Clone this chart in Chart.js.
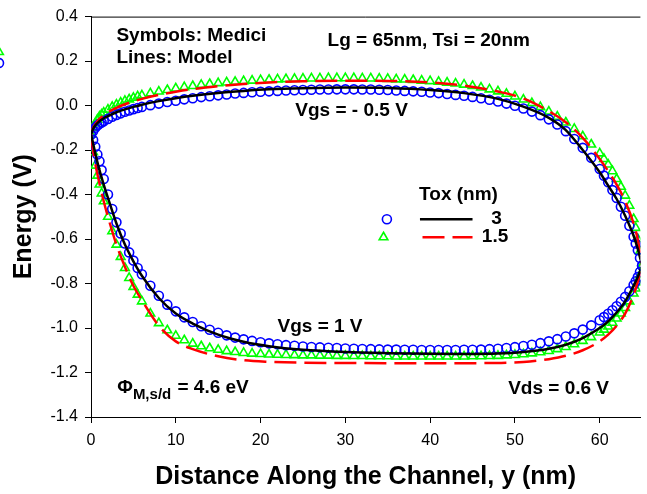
<!DOCTYPE html>
<html>
<head>
<meta charset="utf-8">
<script src="https://cdn.jsdelivr.net/npm/chart.js@4.4.0/dist/chart.umd.min.js"></script>
<style>
  html, body { margin: 0; padding: 0; background: #fff; }
</style>
</head>
<body>
<canvas id="chart" width="647" height="494"></canvas>
<script>
// ======= Data =======
const xTicks = [0, 10, 20, 30, 40, 50, 60];
const yTicks = [-1.4, -1.2, -1.0, -0.8, -0.6, -0.4, -0.2, 0.0, 0.2, 0.4];

// model lines (x in nm)
const xLine = [0, 0.25, 0.5, 1, 1.5, 2, 3, 4, 5, 6, 8, 10, 12, 15, 18, 21, 25, 30, 35, 40,
  44, 48, 51, 54, 56, 58, 60, 61, 62, 63, 64, 64.5, 65];
// Tox = 3 nm, Vgs = -0.5 V
const blackUp = [-0.13, -0.105, -0.09, -0.07, -0.057, -0.047, -0.03, -0.017, -0.006, 0.004, 0.02, 0.033,
  0.044, 0.057, 0.066, 0.073, 0.078, 0.081, 0.079, 0.07, 0.056, 0.03, -0.005, -0.055, -0.11, -0.2,
  -0.3, -0.36, -0.42, -0.495, -0.585, -0.645, -0.72];
// Tox = 1.5 nm, Vgs = -0.5 V
const redUp = [-0.13, -0.1, -0.085, -0.06, -0.044, -0.03, -0.01, 0.006, 0.019, 0.03, 0.048, 0.062,
  0.074, 0.087, 0.097, 0.104, 0.109, 0.112, 0.111, 0.104, 0.09, 0.063, 0.032, -0.025, -0.075, -0.145,
  -0.24, -0.295, -0.355, -0.43, -0.53, -0.605, -0.72];
// Tox = 3 nm, Vgs = 1 V
const blackDn = [-0.13, -0.17, -0.215, -0.29, -0.355, -0.415, -0.53, -0.625, -0.7, -0.765, -0.865, -0.935,
  -0.98, -1.03, -1.062, -1.082, -1.098, -1.108, -1.113, -1.116, -1.117, -1.115, -1.108, -1.093, -1.075,
  -1.045, -1.0, -0.97, -0.93, -0.88, -0.81, -0.77, -0.72];
// Tox = 1.5 nm, Vgs = 1 V
const redDn = [-0.13, -0.2, -0.26, -0.35, -0.43, -0.5, -0.625, -0.725, -0.81, -0.875, -0.99, -1.06,
  -1.095, -1.127, -1.145, -1.152, -1.156, -1.157, -1.158, -1.158, -1.158, -1.157, -1.153, -1.14, -1.125,
  -1.1, -1.06, -1.03, -0.99, -0.935, -0.85, -0.79, -0.72];

// Medici symbols (x in nm)
const xSym = [0, 0.25, 0.5, 0.75, 1, 1.25, 1.5, 2, 2.5, 3, 3.5, 4, 4.5, 5, 5.5, 6,
  7, 8, 9, 10, 11, 12, 13, 14, 15, 16, 17, 18, 19, 20, 21, 22, 23, 24, 25, 26, 27, 28, 29, 30,
  31, 32, 33, 34, 35, 36, 37, 38, 39, 40, 41, 42, 43, 44, 45, 46, 47, 48, 49, 50,
  51, 52, 53, 54, 55, 56, 57, 58, 59, 60,
  60.5, 61, 61.5, 62, 62.5, 63, 63.5, 64, 64.25, 64.5, 64.75, 65];
const blueUp = [-0.13, -0.115, -0.1, -0.09, -0.082, -0.076, -0.07, -0.06, -0.05, -0.042, -0.035, -0.028, -0.022, -0.016, -0.011, -0.006,
  0.002, 0.009, 0.016, 0.022, 0.028, 0.033, 0.038, 0.042, 0.046, 0.05, 0.054, 0.057, 0.06, 0.062, 0.064, 0.066, 0.068, 0.069, 0.07, 0.071, 0.072, 0.072, 0.073, 0.073,
  0.073, 0.072, 0.072, 0.071, 0.07, 0.068, 0.066, 0.064, 0.062, 0.059, 0.056, 0.052, 0.048, 0.044, 0.039, 0.033, 0.026, 0.018, 0.009, -0.001,
  -0.013, -0.027, -0.043, -0.062, -0.085, -0.115, -0.15, -0.19, -0.235, -0.285,
  -0.315, -0.345, -0.38, -0.415, -0.455, -0.495, -0.54, -0.59, -0.62, -0.65, -0.685, -0.72];
const greenUp = [-0.13, -0.1, -0.08, -0.063, -0.05, -0.04, -0.032, -0.018, -0.006, 0.004, 0.013, 0.021, 0.028, 0.035, 0.041, 0.046,
  0.055, 0.063, 0.07, 0.077, 0.083, 0.088, 0.093, 0.097, 0.101, 0.104, 0.107, 0.11, 0.112, 0.114, 0.116, 0.118, 0.119, 0.12, 0.121, 0.122, 0.122, 0.123, 0.123, 0.123,
  0.123, 0.122, 0.122, 0.121, 0.12, 0.118, 0.117, 0.115, 0.112, 0.11, 0.107, 0.103, 0.099, 0.094, 0.088, 0.081, 0.073, 0.064, 0.053, 0.041,
  0.027, 0.011, -0.007, -0.027, -0.05, -0.076, -0.105, -0.138, -0.175, -0.215,
  -0.24, -0.265, -0.295, -0.33, -0.365, -0.405, -0.45, -0.51, -0.55, -0.6, -0.655, -0.72];
const blueDn = [-0.13, -0.155, -0.185, -0.22, -0.25, -0.29, -0.33, -0.4, -0.465, -0.525, -0.575, -0.62, -0.66, -0.697, -0.73, -0.758,
  -0.81, -0.855, -0.895, -0.925, -0.952, -0.973, -0.992, -1.008, -1.021, -1.033, -1.043, -1.051, -1.058, -1.064, -1.069, -1.073, -1.077, -1.08, -1.083, -1.085, -1.087, -1.089, -1.09, -1.092,
  -1.093, -1.094, -1.095, -1.096, -1.097, -1.097, -1.098, -1.098, -1.099, -1.099, -1.099, -1.099, -1.099, -1.098, -1.098, -1.097, -1.095, -1.093, -1.09, -1.086,
  -1.081, -1.075, -1.068, -1.06, -1.05, -1.038, -1.024, -1.007, -0.988, -0.965,
  -0.951, -0.936, -0.92, -0.902, -0.882, -0.86, -0.835, -0.807, -0.79, -0.771, -0.748, -0.72];
const greenDn = [-0.13, -0.21, -0.27, -0.315, -0.355, -0.395, -0.43, -0.5, -0.565, -0.625, -0.68, -0.73, -0.775, -0.815, -0.85, -0.88,
  -0.935, -0.978, -1.01, -1.035, -1.055, -1.07, -1.082, -1.091, -1.098, -1.104, -1.108, -1.112, -1.115, -1.117, -1.119, -1.12, -1.121, -1.122, -1.123, -1.123, -1.124, -1.124, -1.125, -1.125,
  -1.126, -1.126, -1.127, -1.127, -1.127, -1.128, -1.128, -1.128, -1.128, -1.128, -1.128, -1.128, -1.128, -1.128, -1.127, -1.127, -1.126, -1.125, -1.123, -1.121,
  -1.118, -1.114, -1.109, -1.103, -1.095, -1.085, -1.073, -1.058, -1.041, -1.02,
  -1.007, -0.993, -0.976, -0.957, -0.935, -0.91, -0.88, -0.845, -0.822, -0.795, -0.762, -0.72];

// ======= Helpers =======
const FONT = '"Liberation Sans", Arial, sans-serif';
const BLUE = '#0000ff';
const GREEN = '#00ff00';
const RED = '#ff0000';

const pts = (xs, ys) => xs.map((x, i) => ({ x: x, y: ys[i] }));

const lineSet = (label, ys, color, dash) => ({
    label: label,
    data: pts(xLine, ys),
    borderColor: color,
    borderWidth: 2.5,
    borderDash: dash || [],
    pointRadius: 0,
    cubicInterpolationMode: 'monotone',
    fill: false,
    order: 0
});

const symSet = (label, ys, color, style, r) => ({
    label: label,
    data: pts(xSym, ys),
    showLine: false,
    pointStyle: style,
    pointRadius: r,
    pointBorderColor: color,
    pointBackgroundColor: 'rgba(0,0,0,0)',
    pointBorderWidth: 1.6,
    order: 1
});

// ======= Annotations, legend and frame =======
const notes = {
    id: 'notes',
    afterDraw(chart) {
        const { ctx, chartArea, scales: { x, y } } = chart;
        const X = v => x.getPixelForValue(v);
        const Y = v => y.getPixelForValue(v);
        ctx.save();

        // top frame line
        ctx.strokeStyle = '#000';
        ctx.lineWidth = 1;
        ctx.beginPath();
        ctx.moveTo(chartArea.left, chartArea.top + 0.5);
        ctx.lineTo(chartArea.right, chartArea.top + 0.5);
        ctx.stroke();

        ctx.fillStyle = '#000';
        ctx.textBaseline = 'middle';
        ctx.textAlign = 'left';
        ctx.font = 'bold 19px ' + FONT;
        ctx.fillText('Symbols: Medici', X(3.0), Y(0.315));
        ctx.fillText('Lines: Model', X(3.0), Y(0.216));
        ctx.fillText('Lg = 65nm, Tsi = 20nm', X(27.9), Y(0.292));
        ctx.fillText('Vgs = - 0.5 V', X(24.1), Y(-0.022));
        ctx.fillText('Vgs = 1 V', X(22.0), Y(-0.996));
        ctx.fillText('Vds = 0.6 V', X(49.2), Y(-1.274));

        // Phi_{M,s/d} = 4.6 eV
        let px = X(3.1);
        const py = Y(-1.27);
        ctx.fillText('\u03A6', px, py);
        px += ctx.measureText('\u03A6').width;
        ctx.font = 'bold 15px ' + FONT;
        ctx.fillText('M,s/d', px, py + 7);
        px += ctx.measureText('M,s/d').width + 1;
        ctx.font = 'bold 19px ' + FONT;
        ctx.fillText(' = 4.6 eV', px, py);

        // legend
        ctx.fillText('Tox (nm)', X(38.7), Y(-0.403));
        ctx.fillText('3', X(47.2), Y(-0.511));
        ctx.fillText('1.5', X(46.1), Y(-0.592));

        ctx.lineWidth = 2.5;
        ctx.strokeStyle = '#000';
        ctx.beginPath();
        ctx.moveTo(X(38.8), Y(-0.511));
        ctx.lineTo(X(45.0), Y(-0.511));
        ctx.stroke();
        ctx.strokeStyle = RED;
        ctx.setLineDash([22, 8]);
        ctx.beginPath();
        ctx.moveTo(X(39.1), Y(-0.592));
        ctx.lineTo(X(45.0), Y(-0.592));
        ctx.stroke();
        ctx.setLineDash([]);

        const mark = (style, color, r, cx, cy) => {
            ctx.strokeStyle = color;
            ctx.fillStyle = 'rgba(0,0,0,0)';
            ctx.lineWidth = 1.6;
            Chart.helpers.drawPoint(ctx, { pointStyle: style, radius: r, rotation: 0, borderWidth: 1.6 }, cx, cy);
        };
        mark('circle', BLUE, 4.5, X(34.9), Y(-0.511));
        mark('triangle', GREEN, 5, X(34.5), Y(-0.592));

        // fragments of the neighbouring panel at the left edge
        mark('triangle', GREEN, 5, -1, 52);
        mark('circle', BLUE, 4.5, -1, 63);

        ctx.restore();
    }
};

// ======= Chart =======
new Chart(document.getElementById('chart'), {
    type: 'line',
    data: {
        datasets: [
            lineSet('Model Tox 3, Vgs -0.5', blackUp, '#000'),
            lineSet('Model Tox 3, Vgs 1', blackDn, '#000'),
            lineSet('Model Tox 1.5, Vgs -0.5', redUp, RED, [22, 8]),
            lineSet('Model Tox 1.5, Vgs 1', redDn, RED, [22, 8]),
            symSet('Medici Tox 3, Vgs -0.5', blueUp, BLUE, 'circle', 4.5),
            symSet('Medici Tox 3, Vgs 1', blueDn, BLUE, 'circle', 4.5),
            symSet('Medici Tox 1.5, Vgs -0.5', greenUp, GREEN, 'triangle', 5),
            symSet('Medici Tox 1.5, Vgs 1', greenDn, GREEN, 'triangle', 5)
        ]
    },
    options: {
        responsive: false,
        animation: false,
        layout: { padding: { top: 16, right: 0, bottom: 0, left: 0 } },
        plugins: {
            legend: { display: false },
            tooltip: { enabled: false }
        },
        scales: {
            x: {
                type: 'linear',
                min: 0,
                max: 64.8,
                afterBuildTicks: s => { s.ticks = xTicks.map(v => ({ value: v })); },
                afterFit: s => { s.height = 77; },
                grid: { drawOnChartArea: false, drawTicks: true, tickLength: 6, color: '#000' },
                border: { display: true, color: '#000', width: 1 },
                ticks: {
                    color: '#000',
                    padding: 8,
                    font: { family: FONT, size: 16 },
                    callback: v => String(v)
                },
                title: {
                    display: true,
                    text: 'Distance Along the Channel, y (nm)',
                    color: '#000',
                    font: { family: FONT, size: 25, weight: 'bold', lineHeight: 1 },
                    padding: { top: 0, bottom: 4 }
                }
            },
            y: {
                type: 'linear',
                min: -1.4,
                max: 0.4,
                afterBuildTicks: s => { s.ticks = yTicks.map(v => ({ value: v })); },
                afterFit: s => { s.width = 91; },
                grid: { drawOnChartArea: false, drawTicks: true, tickLength: 6, color: '#000' },
                border: { display: true, color: '#000', width: 1 },
                ticks: {
                    color: '#000',
                    padding: 7,
                    font: { family: FONT, size: 16 },
                    callback: v => v.toFixed(1)
                },
                title: {
                    display: true,
                    text: 'Energy (V)',
                    color: '#000',
                    font: { family: FONT, size: 25, weight: 'bold', lineHeight: 1 },
                    padding: { top: 12, bottom: 0 }
                }
            }
        }
    },
    plugins: [notes]
});
</script>
</body>
</html>
